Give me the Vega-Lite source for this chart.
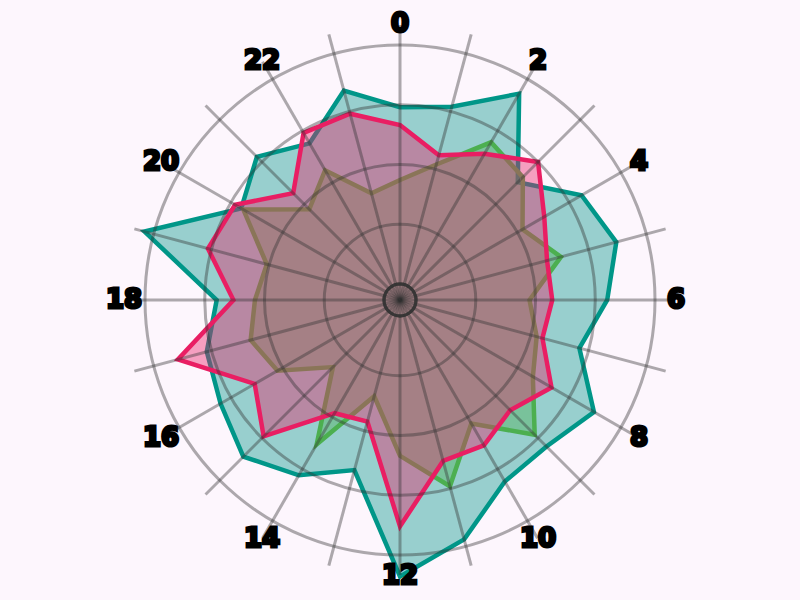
{
  "$schema": "https://vega.github.io/schema/vega-lite/v6.json",
  "width": 800,
  "height": 600,
  "padding": 0,
  "autosize": {"type": "none"},
  "background": "#fdf6fd",
  "config": {"view": {"stroke": null}},
  "datasets": {
    "series": [
      {"s": "A", "h": 0, "v": 74}, {"s": "A", "h": 1, "v": 77}, {"s": "A", "h": 2, "v": 93}, {"s": "A", "h": 3, "v": 63},
      {"s": "A", "h": 4, "v": 81}, {"s": "A", "h": 5, "v": 87}, {"s": "A", "h": 6, "v": 80}, {"s": "A", "h": 7, "v": 71},
      {"s": "A", "h": 8, "v": 87}, {"s": "A", "h": 9, "v": 80}, {"s": "A", "h": 10, "v": 81}, {"s": "A", "h": 11, "v": 97},
      {"s": "A", "h": 12, "v": 109}, {"s": "A", "h": 13, "v": 67}, {"s": "A", "h": 14, "v": 78}, {"s": "A", "h": 15, "v": 86},
      {"s": "A", "h": 16, "v": 80}, {"s": "A", "h": 17, "v": 77}, {"s": "A", "h": 18, "v": 70}, {"s": "A", "h": 19, "v": 104},
      {"s": "A", "h": 20, "v": 70}, {"s": "A", "h": 21, "v": 78}, {"s": "A", "h": 22, "v": 69}, {"s": "A", "h": 23, "v": 84},
      {"s": "B", "h": 0, "v": 43.5}, {"s": "B", "h": 1, "v": 52}, {"s": "B", "h": 2, "v": 69.5}, {"s": "B", "h": 3, "v": 66},
      {"s": "B", "h": 4, "v": 52.5}, {"s": "B", "h": 5, "v": 63}, {"s": "B", "h": 6, "v": 47.5}, {"s": "B", "h": 7, "v": 52.5},
      {"s": "B", "h": 8, "v": 57.5}, {"s": "B", "h": 9, "v": 73}, {"s": "B", "h": 10, "v": 53}, {"s": "B", "h": 11, "v": 74},
      {"s": "B", "h": 12, "v": 58.5}, {"s": "B", "h": 13, "v": 35}, {"s": "B", "h": 14, "v": 63}, {"s": "B", "h": 15, "v": 33},
      {"s": "B", "h": 16, "v": 52.5}, {"s": "B", "h": 17, "v": 58}, {"s": "B", "h": 18, "v": 54}, {"s": "B", "h": 19, "v": 51},
      {"s": "B", "h": 20, "v": 69}, {"s": "B", "h": 21, "v": 47}, {"s": "B", "h": 22, "v": 56}, {"s": "B", "h": 23, "v": 39.5},
      {"s": "C", "h": 0, "v": 66.5}, {"s": "C", "h": 1, "v": 56}, {"s": "C", "h": 2, "v": 64}, {"s": "C", "h": 3, "v": 75},
      {"s": "C", "h": 4, "v": 63}, {"s": "C", "h": 5, "v": 57}, {"s": "C", "h": 6, "v": 57}, {"s": "C", "h": 7, "v": 55},
      {"s": "C", "h": 8, "v": 66.5}, {"s": "C", "h": 9, "v": 58.5}, {"s": "C", "h": 10, "v": 63.5}, {"s": "C", "h": 11, "v": 63},
      {"s": "C", "h": 12, "v": 88}, {"s": "C", "h": 13, "v": 46}, {"s": "C", "h": 14, "v": 48}, {"s": "C", "h": 15, "v": 74},
      {"s": "C", "h": 16, "v": 63.5}, {"s": "C", "h": 17, "v": 89.5}, {"s": "C", "h": 18, "v": 63}, {"s": "C", "h": 19, "v": 76.5},
      {"s": "C", "h": 20, "v": 73}, {"s": "C", "h": 21, "v": 56.5}, {"s": "C", "h": 22, "v": 74}, {"s": "C", "h": 23, "v": 74}
    ],
    "rings": [{"v": 0}, {"v": 25}, {"v": 50}, {"v": 75}, {"v": 100}],
    "spokes": [
      {"h": 0}, {"h": 1}, {"h": 2}, {"h": 3}, {"h": 4}, {"h": 5}, {"h": 6}, {"h": 7},
      {"h": 8}, {"h": 9}, {"h": 10}, {"h": 11}, {"h": 12}, {"h": 13}, {"h": 14}, {"h": 15},
      {"h": 16}, {"h": 17}, {"h": 18}, {"h": 19}, {"h": 20}, {"h": 21}, {"h": 22}, {"h": 23}
    ],
    "labels": [
      {"h": 0, "label": "0"}, {"h": 2, "label": "2"}, {"h": 4, "label": "4"}, {"h": 6, "label": "6"},
      {"h": 8, "label": "8"}, {"h": 10, "label": "10"}, {"h": 12, "label": "12"}, {"h": 14, "label": "14"},
      {"h": 16, "label": "16"}, {"h": 18, "label": "18"}, {"h": 20, "label": "20"}, {"h": 22, "label": "22"}
    ]
  },
  "layer": [
    {
      "data": {"name": "series"},
      "transform": [
        {"filter": "datum.s === 'A'"},
        {"calculate": "(16 + 2.39 * datum.v) * sin(datum.h * PI / 12)", "as": "px"},
        {"calculate": "(16 + 2.39 * datum.v) * cos(datum.h * PI / 12)", "as": "py"}
      ],
      "mark": {"type": "line", "interpolate": "linear-closed", "stroke": "#009688", "fill": "#009688", "fillOpacity": 0.4, "strokeWidth": 4.5, "strokeJoin": "miter"},
      "encoding": {
        "x": {"field": "px", "type": "quantitative", "scale": {"domain": [-400, 400], "nice": false, "zero": false}, "axis": null},
        "y": {"field": "py", "type": "quantitative", "scale": {"domain": [-300, 300], "nice": false, "zero": false}, "axis": null},
        "order": {"field": "h", "type": "quantitative"}
      }
    },
    {
      "data": {"name": "series"},
      "transform": [
        {"filter": "datum.s === 'B'"},
        {"calculate": "(16 + 2.39 * datum.v) * sin(datum.h * PI / 12)", "as": "px"},
        {"calculate": "(16 + 2.39 * datum.v) * cos(datum.h * PI / 12)", "as": "py"}
      ],
      "mark": {"type": "line", "interpolate": "linear-closed", "stroke": "#4caf50", "fill": "#4caf50", "fillOpacity": 0.4, "strokeWidth": 4.5, "strokeJoin": "miter"},
      "encoding": {
        "x": {"field": "px", "type": "quantitative", "scale": {"domain": [-400, 400], "nice": false, "zero": false}, "axis": null},
        "y": {"field": "py", "type": "quantitative", "scale": {"domain": [-300, 300], "nice": false, "zero": false}, "axis": null},
        "order": {"field": "h", "type": "quantitative"}
      }
    },
    {
      "data": {"name": "series"},
      "transform": [
        {"filter": "datum.s === 'C'"},
        {"calculate": "(16 + 2.39 * datum.v) * sin(datum.h * PI / 12)", "as": "px"},
        {"calculate": "(16 + 2.39 * datum.v) * cos(datum.h * PI / 12)", "as": "py"}
      ],
      "mark": {"type": "line", "interpolate": "linear-closed", "stroke": "#e91e63", "fill": "#e91e63", "fillOpacity": 0.4, "strokeWidth": 4.5, "strokeJoin": "miter"},
      "encoding": {
        "x": {"field": "px", "type": "quantitative", "scale": {"domain": [-400, 400], "nice": false, "zero": false}, "axis": null},
        "y": {"field": "py", "type": "quantitative", "scale": {"domain": [-300, 300], "nice": false, "zero": false}, "axis": null},
        "order": {"field": "h", "type": "quantitative"}
      }
    },
    {
      "data": {"name": "spokes"},
      "transform": [
        {"calculate": "0", "as": "ox"},
        {"calculate": "275 * sin(datum.h * PI / 12)", "as": "ex"},
        {"calculate": "275 * cos(datum.h * PI / 12)", "as": "ey"}
      ],
      "mark": {"type": "rule", "stroke": "#333333", "strokeOpacity": 0.4, "strokeWidth": 3},
      "encoding": {
        "x": {"field": "ox", "type": "quantitative", "scale": {"domain": [-400, 400], "nice": false, "zero": false}, "axis": null},
        "y": {"field": "ox", "type": "quantitative", "scale": {"domain": [-300, 300], "nice": false, "zero": false}, "axis": null},
        "x2": {"field": "ex"},
        "y2": {"field": "ey"}
      }
    },
    {
      "data": {"name": "rings"},
      "mark": {"type": "arc", "theta": 0, "theta2": 6.2832, "filled": false, "stroke": "#333333", "strokeOpacity": 0.4, "strokeWidth": 3},
      "encoding": {
        "radius": {"field": "v", "type": "quantitative", "stack": null, "scale": {"type": "linear", "domain": [0, 100], "range": [16, 255], "zero": false}}
      }
    },
    {
      "data": {"name": "labels"},
      "transform": [
        {"calculate": "276 * sin(datum.h * PI / 12)", "as": "px"},
        {"calculate": "276 * cos(datum.h * PI / 12)", "as": "py"}
      ],
      "mark": {"type": "text", "fontSize": 26, "fontWeight": "bold", "font": "DejaVu Sans", "fill": "#000000", "stroke": "#000000", "strokeWidth": 3, "align": "center", "baseline": "middle"},
      "encoding": {
        "x": {"field": "px", "type": "quantitative", "scale": {"domain": [-400, 400], "nice": false, "zero": false}, "axis": null},
        "y": {"field": "py", "type": "quantitative", "scale": {"domain": [-300, 300], "nice": false, "zero": false}, "axis": null},
        "text": {"field": "label"}
      }
    }
  ]
}
